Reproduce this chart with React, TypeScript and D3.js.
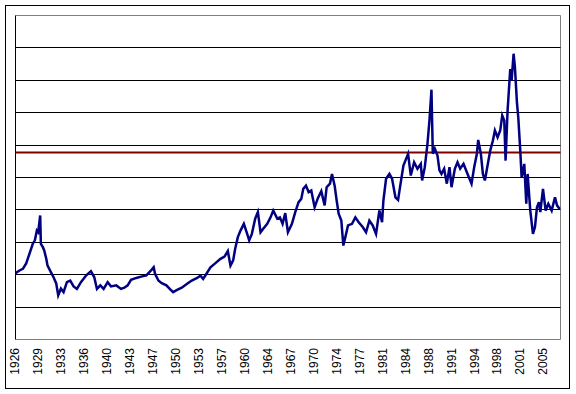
import React from "react";
import * as d3 from "d3";

// Decimal years and values (unlabelled value axis, 0-10 units)
const years: number[] = [
  1926.0, 1926.6, 1927.1, 1927.6, 1928.1, 1928.6, 1928.9, 1929.2, 1929.4, 1929.7,
  1929.8, 1930.1, 1930.3, 1930.6, 1930.8, 1931.3, 1931.7, 1932.1, 1932.4, 1932.8,
  1933.2, 1933.7, 1934.2, 1934.7, 1935.2, 1935.8, 1936.6, 1937.3, 1937.8, 1938.2,
  1938.7, 1939.2, 1939.8, 1940.3, 1941.1, 1941.8, 1942.3, 1942.8, 1943.3, 1944.1,
  1944.8, 1945.6, 1946.3, 1946.5, 1946.7, 1946.9, 1947.4, 1947.9, 1948.6, 1949.1,
  1949.6, 1950.2, 1950.9, 1951.7, 1952.4, 1953.2, 1953.7, 1954.1, 1954.6, 1955.2,
  1955.9, 1956.7, 1957.3, 1957.8, 1958.2, 1958.6, 1958.9, 1959.3, 1959.7, 1960.2,
  1960.7, 1961.0, 1961.4, 1961.9, 1962.3, 1962.7, 1963.1, 1963.7, 1964.2, 1964.6,
  1965.2, 1965.6, 1966.0, 1966.4, 1966.8, 1967.4, 1967.9, 1968.4, 1968.8, 1969.1,
  1969.5, 1969.9, 1970.3, 1970.8, 1971.3, 1971.8, 1972.3, 1972.6, 1973.1, 1973.4,
  1973.8, 1974.1, 1974.4, 1974.8, 1975.1, 1975.4, 1975.8, 1976.4, 1976.9, 1977.4,
  1978.0, 1978.5, 1979.0, 1979.5, 1980.0, 1980.5, 1980.9, 1981.1, 1981.5, 1982.0,
  1982.4, 1982.9, 1983.3, 1983.7, 1984.1, 1984.6, 1984.8, 1985.2, 1985.7, 1986.2,
  1986.7, 1986.9, 1987.3, 1987.7, 1988.0, 1988.3, 1988.5, 1988.8, 1989.2, 1989.5,
  1989.8, 1990.2, 1990.6, 1991.0, 1991.3, 1991.8, 1992.2, 1992.6, 1993.1, 1993.6,
  1994.1, 1994.3, 1994.7, 1995.1, 1995.3, 1995.7, 1996.0, 1996.3, 1996.7, 1997.1,
  1997.5, 1997.8, 1998.2, 1998.6, 1998.9, 1999.2, 1999.4, 1999.7, 1999.8, 2000.1,
  2000.3, 2000.6, 2000.8, 2001.1, 2001.3, 2001.6, 2001.8, 2002.2, 2002.5, 2002.7,
  2003.1, 2003.5, 2003.8, 2004.1, 2004.4, 2004.6, 2005.0, 2005.4, 2005.8, 2006.3,
  2006.8, 2007.1, 2007.5,
];

const values: number[] = [
  2.05, 2.13, 2.18, 2.35, 2.65, 2.96, 3.06, 3.36, 3.31, 3.83,
  2.95, 2.85, 2.75, 2.5, 2.28, 2.08, 1.92, 1.73, 1.36, 1.57,
  1.46, 1.77, 1.82, 1.64, 1.56, 1.77, 1.98, 2.11, 1.92, 1.56,
  1.67, 1.56, 1.77, 1.64, 1.67, 1.56, 1.6, 1.67, 1.84, 1.9,
  1.94, 1.98, 2.13, 2.18, 2.23, 2.03, 1.82, 1.74, 1.67, 1.56,
  1.46, 1.53, 1.6, 1.72, 1.82, 1.9, 1.97, 1.87, 2.03, 2.23,
  2.35, 2.49, 2.56, 2.73, 2.28, 2.44, 2.8, 3.16, 3.36, 3.57,
  3.26, 3.06, 3.26, 3.73, 3.93, 3.31, 3.42, 3.57, 3.77, 3.98,
  3.73, 3.77, 3.57, 3.9, 3.31, 3.57, 3.93, 4.24, 4.34, 4.65,
  4.75, 4.55, 4.6, 4.08, 4.37, 4.58, 4.14, 4.7, 4.81, 5.11,
  4.75, 4.29, 3.88, 3.67, 2.9, 3.16, 3.52, 3.57, 3.77, 3.62,
  3.47, 3.31, 3.67, 3.52, 3.26, 3.98, 3.62, 4.29, 4.96, 5.11,
  4.96, 4.39, 4.31, 4.85, 5.37, 5.63, 5.73, 5.06, 5.47, 5.27,
  5.42, 4.91, 5.32, 6.04, 6.76, 7.71, 5.73, 5.89, 5.68, 5.22,
  5.11, 5.27, 4.81, 5.32, 4.7, 5.27, 5.47, 5.27, 5.42, 5.16,
  4.91, 4.81, 5.32, 5.73, 6.16, 5.73, 5.11, 4.91, 5.37, 5.83,
  6.14, 6.45, 6.24, 6.45, 6.91, 6.76, 5.52, 7.07, 7.38, 8.35,
  7.99, 8.82, 8.4, 7.32, 6.86, 5.83, 5.01, 5.42, 4.19, 5.11,
  3.98, 3.26, 3.47, 4.08, 4.24, 3.93, 4.65, 3.98, 4.19, 3.98,
  4.39, 4.14, 4.03,
];

const referenceLevel = 5.77;

const tickLabels: string[] = [
  "1926", "1929", "1933", "1936", "1940", "1943", "1947", "1950", "1953", "1957",
  "1960", "1964", "1967", "1970", "1974", "1977", "1981", "1984", "1988", "1991",
  "1994", "1998", "2001", "2005",
];

const gridValues: number[] = [1, 2, 3, 4, 5, 6, 7, 8, 9];

const W = 576;
const H = 394;
const plot = { left: 15.5, top: 15.5, right: 560.5, bottom: 339.5 };

export default function App() {
  const x = d3.scaleLinear().domain([1926, 2007.55]).range([plot.left, plot.right - 0.5]);
  const y = d3.scaleLinear().domain([0, 10]).range([plot.bottom, plot.top]);
  const xl = d3.scalePoint<string>().domain(tickLabels).range([15, 543]);

  const data = years.map((yr, i) => ({ yr, v: values[i] }));
  const line = d3
    .line<{ yr: number; v: number }>()
    .x((d) => x(d.yr))
    .y((d) => y(d.v));

  const snap = (p: number) => Math.round(p - 0.5) + 0.5;

  return (
    <svg
      width={W}
      height={H}
      style={{ position: "absolute", left: 0, top: 0, background: "#fff" }}
      fontFamily="'Liberation Sans', Arial, sans-serif"
    >
      <rect x={0} y={0} width={W} height={H} fill="#fff" />
      <rect x={5.5} y={5.5} width={564} height={383} fill="none" stroke="#000" strokeWidth={1} />
      {/* plot frame */}
      <line x1={plot.left} x2={plot.right} y1={plot.top} y2={plot.top} stroke="#808080" />
      <line x1={plot.right} x2={plot.right} y1={plot.top} y2={plot.bottom} stroke="#808080" />
      <line x1={plot.left} x2={plot.right} y1={plot.bottom} y2={plot.bottom} stroke="#808080" />
      {gridValues.map((g) => (
        <line
          key={g}
          x1={plot.left}
          x2={plot.right}
          y1={snap(y(g))}
          y2={snap(y(g))}
          stroke="#000"
          strokeWidth={1}
        />
      ))}
      <line x1={plot.left} x2={plot.left} y1={plot.top} y2={plot.bottom} stroke="#000" />
      {/* reference level */}
      <line
        x1={plot.left}
        x2={plot.right}
        y1={y(referenceLevel)}
        y2={y(referenceLevel)}
        stroke="#800000"
        strokeWidth={2}
      />
      <path d={line(data) || ""} fill="none" stroke="#000080" strokeWidth={2.5} strokeLinejoin="miter" />
      {tickLabels.map((t) => (
        <text
          key={t}
          transform={`translate(${(xl(t) as number) + 4.4},348) rotate(-90)`}
          textAnchor="end"
          fontSize={12}
          fill="#000"
        >
          {t}
        </text>
      ))}
    </svg>
  );
}
